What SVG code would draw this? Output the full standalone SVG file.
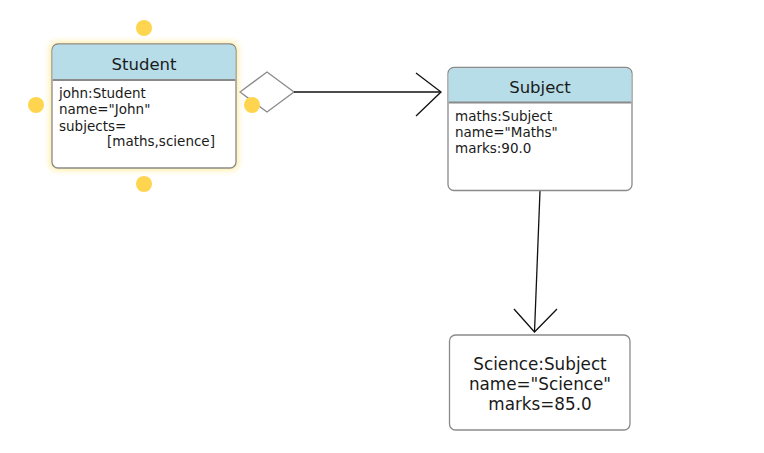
<svg xmlns="http://www.w3.org/2000/svg" width="764" height="453" viewBox="0 0 764 453">
<defs>
<style>
.box{fill:#fff;stroke:#8a8a8a;stroke-width:1.3}
.hdr{fill:#b7dde8}
.sep{stroke:#8a8a8a;stroke-width:2}
.t{font-family:"DejaVu Sans",Verdana,sans-serif;fill:#1a1a1a}
.title{font-size:16.5px;text-anchor:middle}
.body{font-size:13.5px}
.ctr{font-size:16.8px;text-anchor:middle}
.handle{fill:#ffd54f}
.conn{stroke:#111;stroke-width:1.3;fill:none}
</style>
<filter id="glow" x="-20%" y="-20%" width="140%" height="140%">
<feGaussianBlur stdDeviation="3"/>
</filter>
</defs>
<rect width="764" height="453" fill="#fff"/>
<g id="connectors">
<polygon points="240,92 267,72 294,92 267,112" fill="#fff" stroke="#8a8a8a" stroke-width="1.3"/>
<line class="conn" x1="294" y1="92" x2="441" y2="92"/>
<polyline class="conn" points="416,73 441,92 416,116"/>
<line class="conn" x1="540" y1="191" x2="534.5" y2="332"/>
<polyline class="conn" points="514,309 534.5,332 557,309"/>
</g>
<g id="student">
<rect x="50" y="42" width="188" height="128" rx="7" fill="#ffe680" opacity="0.8" filter="url(#glow)"/>
<rect class="box" x="52" y="44" width="184" height="124" rx="6"/>
<path class="hdr" d="M52.7,80 V50 a5.3,5.3 0 0 1 5.3,-5.3 H230 a5.3,5.3 0 0 1 5.3,5.3 V80 Z"/>
<line class="sep" x1="52.7" y1="80" x2="235.3" y2="80"/>
<text class="t title" x="144" y="70">Student</text>
<text class="t body" x="59" y="98">john:Student</text>
<text class="t body" x="59" y="114">name="John"</text>
<text class="t body" x="59" y="130.5">subjects=</text>
<text class="t body" x="107" y="146">[maths,science]</text>
<circle class="handle" cx="144" cy="28" r="8"/>
<circle class="handle" cx="36" cy="105" r="8"/>
<circle class="handle" cx="252" cy="105" r="8"/>
<circle class="handle" cx="144" cy="184" r="8"/>
</g>
<g id="subject">
<rect class="box" x="448" y="67.5" width="184" height="123" rx="6"/>
<path class="hdr" d="M448.7,102.5 V73.5 a5.3,5.3 0 0 1 5.3,-5.3 H626 a5.3,5.3 0 0 1 5.3,5.3 V102.5 Z"/>
<line class="sep" x1="448.7" y1="102.5" x2="631.3" y2="102.5"/>
<text class="t title" x="540" y="92.5">Subject</text>
<text class="t body" x="455" y="121">maths:Subject</text>
<text class="t body" x="455" y="136.5">name="Maths"</text>
<text class="t body" x="455" y="152.5">marks:90.0</text>
</g>
<g id="science">
<rect class="box" x="449.5" y="335" width="180.5" height="95" rx="6"/>
<text class="t ctr" x="540" y="370">Science:Subject</text>
<text class="t ctr" x="540" y="390">name="Science"</text>
<text class="t ctr" x="540" y="409.5">marks=85.0</text>
</g>
</svg>
